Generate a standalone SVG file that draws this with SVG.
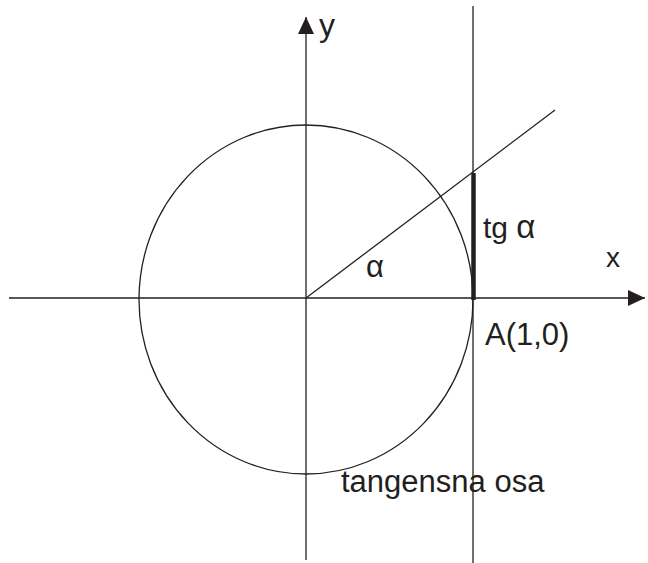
<svg xmlns="http://www.w3.org/2000/svg" width="648" height="563" viewBox="0 0 648 563">
<style>
.ln{stroke:#231f20;stroke-width:1.3;fill:none}
.t{font-family:"Liberation Sans",Arial,sans-serif;fill:#231f20}
</style>
<defs>
<marker id="ah" markerUnits="userSpaceOnUse" markerWidth="18" markerHeight="18" refX="17" refY="8" orient="auto">
<path d="M0,0 L17,8 L0,16 Z" fill="#231f20"/>
</marker>
</defs>
<rect width="648" height="563" fill="#ffffff"/>
<g id="connectors">
<line class="ln" x1="9" y1="298" x2="645" y2="298" marker-end="url(#ah)"/>
<line class="ln" x1="306" y1="560" x2="306" y2="17" marker-end="url(#ah)"/>
<line class="ln" x1="473" y1="6" x2="473" y2="563"/>
<line class="ln" x1="306" y1="298" x2="555" y2="110"/>
<line x1="473.5" y1="173" x2="473.5" y2="300" stroke="#231f20" stroke-width="4.5"/>
</g>
<g id="circle">
<ellipse class="ln" cx="306" cy="299.5" rx="167" ry="174.5"/>
</g>
<g id="labels">
<text class="t" x="319" y="36" font-size="32">y</text>
<text class="t" x="606" y="267" font-size="28">x</text>
<text class="t" x="483" y="238" font-size="30">tg <tspan font-size="33">α</tspan></text>
<text class="t" x="366" y="277" font-size="31">α</text>
<text class="t" x="485" y="345" font-size="31">A(1,0)</text>
<text class="t" x="341" y="492" font-size="31">tangensna osa</text>
</g>
</svg>
